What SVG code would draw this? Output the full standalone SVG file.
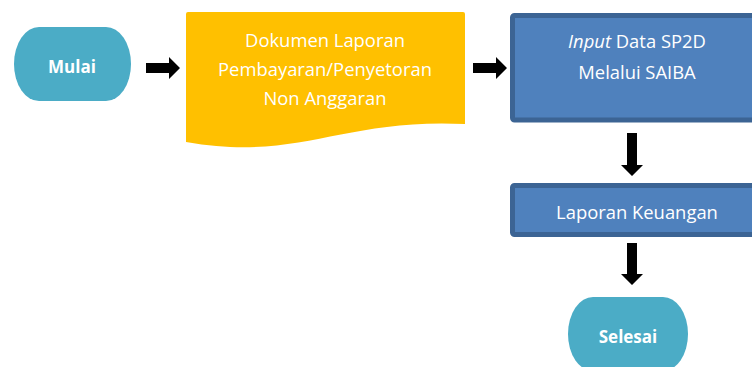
<svg xmlns="http://www.w3.org/2000/svg" width="752" height="367" viewBox="0 0 752 367">
  <style>
    .term { fill: #4BACC6; }
    .doc { fill: #FFC000; }
    .proc { fill: #4F81BD; stroke: #3C6494; stroke-width: 5; }
    .arrow { fill: #000000; }
    .lbl { font-family: "Open Sans", "Noto Sans", sans-serif; fill: #FFFFFF; text-anchor: middle; }
    .bold { font-weight: bold; font-size: 17px; }
    .txt { font-size: 18.4px; }
  </style>
  <rect width="752" height="367" fill="#FFFFFF"/>

  <!-- connectors -->
  <g id="connectors">
    <path class="arrow" d="M146,63 H169 V57 L180,68 L169,79 V73 H146 Z"/>
    <path class="arrow" d="M473,63 H496 V57 L507,68 L496,79 V73 H473 Z"/>
    <path class="arrow" d="M627,133 H637 V165 H643 L632,176 L621,165 H627 Z"/>
    <path class="arrow" d="M627,243 H637 V274 H643 L632,285 L621,274 H627 Z"/>
  </g>

  <!-- start terminator -->
  <g id="mulai">
    <path class="term" d="M39,27 H106 A25,37 0 0 1 106,101 H39 A25,37 0 0 1 39,27 Z"/>
    <text class="lbl bold" x="72" y="73">Mulai</text>
  </g>

  <!-- source document -->
  <g id="dokumen">
    <path class="doc" d="M188,12 H463 Q465,12 465,14 V124 C340,118 300,162 186,142 V14 Q186,12 188,12 Z"/>
    <text class="lbl txt" x="325" y="47">Dokumen Laporan</text>
    <text class="lbl txt" x="325" y="76">Pembayaran/Penyetoran</text>
    <text class="lbl txt" x="325" y="105">Non Anggaran</text>
  </g>

  <!-- data entry process -->
  <g id="input-data">
    <rect class="proc" x="512.5" y="15.5" width="260" height="104.5" rx="2"/>
    <text class="lbl txt" x="637" y="48"><tspan font-style="italic">Input</tspan> Data SP2D</text>
    <text class="lbl txt" x="637" y="79">Melalui SAIBA</text>
  </g>

  <!-- report process -->
  <g id="laporan-keuangan">
    <rect class="proc" x="512.5" y="185.5" width="260" height="49" rx="2"/>
    <text class="lbl txt" x="637" y="219">Laporan Keuangan</text>
  </g>

  <!-- end terminator -->
  <g id="selesai">
    <path class="term" d="M593,297 H663 A25,37 0 0 1 663,371 H593 A25,37 0 0 1 593,297 Z"/>
    <text class="lbl bold" x="628" y="343">Selesai</text>
  </g>
</svg>
